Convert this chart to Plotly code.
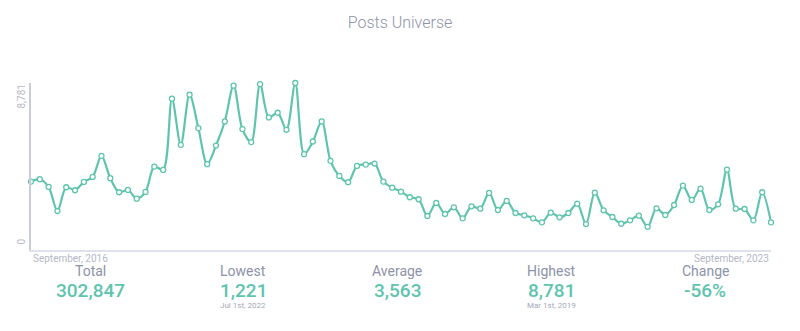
import plotly.graph_objects as go

months = list(range(85))  # Sep 2016 .. Sep 2023, monthly
posts = [3596, 3722, 3316, 2051, 3300, 3142, 3580, 3843, 4950, 3775,
         3037, 3158, 2699, 3052, 4386, 4212, 7956, 5530, 8166, 6411,
         4513, 5493, 6759, 8641, 6358, 5673, 8720, 6970, 7217, 6321,
         8781, 5040, 5704, 6759, 4687, 3896, 3564, 4423, 4492, 4545,
         3596, 3279, 3068, 2773, 2668, 1787, 2473, 1893, 2246, 1666,
         2299, 2172, 3000, 2104, 2578, 1945, 1824, 1666, 1455, 1961,
         1719, 1945, 2436, 1365, 3016, 2088, 1734, 1381, 1560, 1803,
         1221, 2193, 1840, 2367, 3385, 2631, 3226, 2104, 2404, 4228,
         2172, 2156, 1560, 3037, 1455]

start_label = "September, 2016"
end_label = "September, 2023"
y_tick_labels = ["0", "8,781"]
stat_names = ["Total", "Lowest", "Average", "Highest", "Change"]
stat_values = ["302,847", "1,221", "3,563", "8,781", "-56%"]
stat_notes = ["", "Jul 1st, 2022", "", "Mar 1st, 2019", ""]

teal = "#5ec4ae"
grey_txt = "#b4b8c6"
label_col = "#8d93a9"

W, H = 800, 331
ML, MR, MT, MB = 31, 29, 83, 81
PW, PH = W - ML - MR, H - MT - MB


def px_x(px):
    return (px - ML) / PW


def px_y(py):
    return (H - MB - py) / PH


fig = go.Figure()
fig.add_trace(go.Scatter(
    x=months, y=posts, mode="lines+markers",
    line=dict(color=teal, width=2.2, shape="spline", smoothing=0.9),
    marker=dict(size=5, color="white", line=dict(color=teal, width=1.3)),
    cliponaxis=False, hoverinfo="skip",
))

ymax = max(posts)
fig.update_layout(
    width=W, height=H,
    margin=dict(l=ML, r=MR, t=MT, b=MB),
    paper_bgcolor="white", plot_bgcolor="white",
    showlegend=False,
    font=dict(family="Roboto, sans-serif"),
    title=dict(text="Posts Universe", x=0.5, xanchor="center", y=1 - 22 / H, yanchor="middle",
               font=dict(size=16, color=label_col, family="Roboto, sans-serif", weight=300)),
    xaxis=dict(range=[0, len(months) - 1], showgrid=False, zeroline=False,
               showline=True, linecolor="#dfe2ea", linewidth=1.5,
               showticklabels=False, ticks=""),
    yaxis=dict(range=[0, ymax], showgrid=False, zeroline=False,
               showline=True, linecolor="#c9cdd9", linewidth=2,
               showticklabels=False, ticks=""),
)

ann = []
ann.append(dict(x=0, y=0, xref="paper", yref="y", text=y_tick_labels[0], textangle=-90,
                showarrow=False, xanchor="right", yanchor="bottom", xshift=-3, yshift=3,
                font=dict(size=10, color=grey_txt)))
ann.append(dict(x=0, y=ymax, xref="paper", yref="y", text=y_tick_labels[1], textangle=-90,
                showarrow=False, xanchor="right", yanchor="top", xshift=-3,
                font=dict(size=10, color=grey_txt)))
ann.append(dict(x=0, y=0, xref="paper", yref="paper", text=start_label, showarrow=False,
                xanchor="left", yanchor="top", yshift=-1, font=dict(size=10, color=grey_txt)))
ann.append(dict(x=1, y=0, xref="paper", yref="paper", text=end_label, showarrow=False,
                xanchor="right", yanchor="top", yshift=-1, font=dict(size=10, color=grey_txt)))

centers = [90, 243, 397, 551, 705]
for cx, name, val, note in zip(centers, stat_names, stat_values, stat_notes):
    ann.append(dict(x=px_x(cx), y=px_y(271), xref="paper", yref="paper", text=name,
                    showarrow=False, xanchor="center", yanchor="middle",
                    font=dict(size=14, color=label_col)))
    ann.append(dict(x=px_x(cx), y=px_y(290), xref="paper", yref="paper", text=val,
                    showarrow=False, xanchor="center", yanchor="middle",
                    font=dict(size=19, color=teal, weight=500)))
    if note:
        ann.append(dict(x=px_x(cx), y=px_y(305), xref="paper", yref="paper", text=note,
                        showarrow=False, xanchor="center", yanchor="middle",
                        font=dict(size=8, color="#a4a8b8")))
fig.update_layout(annotations=ann)

fig.write_html("out.html")
